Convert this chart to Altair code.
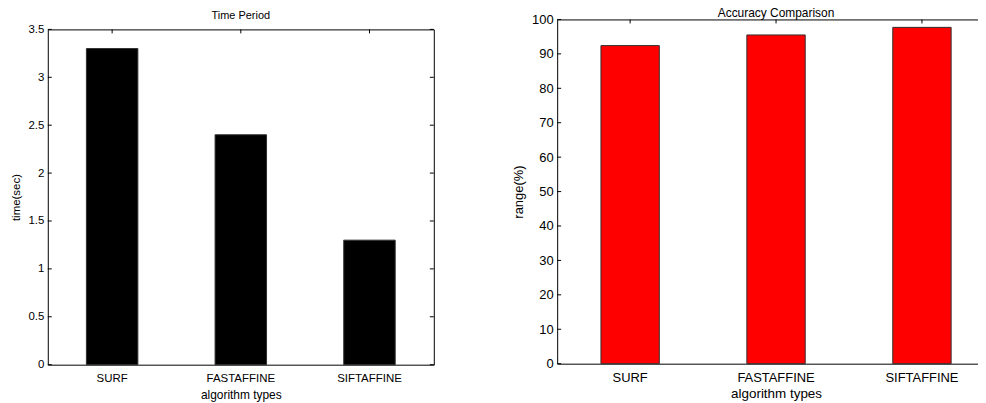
import altair as alt
import pandas as pd

algorithms = ["SURF", "FASTAFFINE", "SIFTAFFINE"]
time_sec = [3.3, 2.4, 1.3]
accuracy = [92.4, 95.5, 97.7]
time_ticks = [0, 0.5, 1, 1.5, 2, 2.5, 3, 3.5]
acc_ticks = [0, 10, 20, 30, 40, 50, 60, 70, 80, 90, 100]

FONT = "Liberation Sans"

df_time = pd.DataFrame({"alg": algorithms, "val": time_sec})
df_acc = pd.DataFrame({"alg": algorithms, "val": accuracy})
df_tt = pd.DataFrame({"val": time_ticks})
df_at = pd.DataFrame({"val": acc_ticks})


def panel(df, dft, ticks, dom, fmt, w, h, fill, title, ytitle, fs_lab, fs_title,
          right_ticks, title_off, xtitle_pad):
    xs = alt.Scale(domain=algorithms, paddingInner=0.6, paddingOuter=0.3)
    ys = alt.Scale(domain=dom, nice=False, zero=True)
    xax = alt.Axis(title="algorithm types", labelAngle=0, ticks=False, domain=False,
                   labelPadding=8, titlePadding=xtitle_pad, labelFontSize=fs_lab,
                   titleFontSize=fs_lab + 0.5)
    yax = alt.Axis(title=ytitle, values=ticks, format=fmt, ticks=False, domain=False, grid=False,
                   labelPadding=4, titlePadding=6, labelFontSize=fs_lab,
                   titleFontSize=fs_lab)
    X = alt.X("alg:N", scale=xs, sort=algorithms, axis=xax)
    Y = alt.Y("val:Q", scale=ys, axis=yax)
    bars = alt.Chart(df).mark_bar(fill=fill, stroke="#303030", strokeWidth=1).encode(x=X, y=Y)
    lt = alt.Chart(dft).mark_rule(color="black", strokeWidth=1).encode(
        y=Y, x=alt.value(0), x2=alt.value(4))
    tt = alt.Chart(df).mark_rule(color="black", strokeWidth=1).encode(
        x=X, y=alt.value(0), y2=alt.value(4))
    layers = [bars, lt, tt]
    if right_ticks:
        rt = alt.Chart(dft).mark_rule(color="black", strokeWidth=1).encode(
            y=Y, x=alt.value(w - 4), x2=alt.value(w))
        layers.append(rt)
    return alt.layer(*layers).properties(
        width=w, height=h,
        title=alt.TitleParams(title, fontSize=fs_title, fontWeight="normal", font=FONT,
                              color="black", offset=title_off),
        view=alt.ViewBackground(stroke="black", strokeWidth=1),
    )


left = panel(df_time, df_tt, time_ticks, [0, 3.5], ".1~f", 388, 337, "black", "Time Period",
             "time(sec)", 11.5, 11, True, 2, 5)
right = panel(df_acc, df_at, acc_ticks, [0, 100], "d", 440, 346, "#ff0000", "Accuracy Comparison",
              "range(%)", 13, 12, False, -7, 2)

spacer = alt.Chart(pd.DataFrame({"a": [0]})).mark_point(opacity=0, size=1).properties(
    width=1, height=1, view=alt.ViewBackground(stroke="transparent"))

left_col = alt.vconcat(spacer, left, spacing=-12)

chart = alt.hconcat(left_col, right, spacing=77).properties(
    padding={"left": 2, "top": -2.5, "right": -18, "bottom": 0}
).configure(font=FONT).configure_view(stroke="transparent").configure_axis(
    labelColor="black", titleColor="black", titleFontWeight="normal", labelFont=FONT, titleFont=FONT
)

chart.save("out.html", embed_options={"renderer": "svg", "actions": False})
